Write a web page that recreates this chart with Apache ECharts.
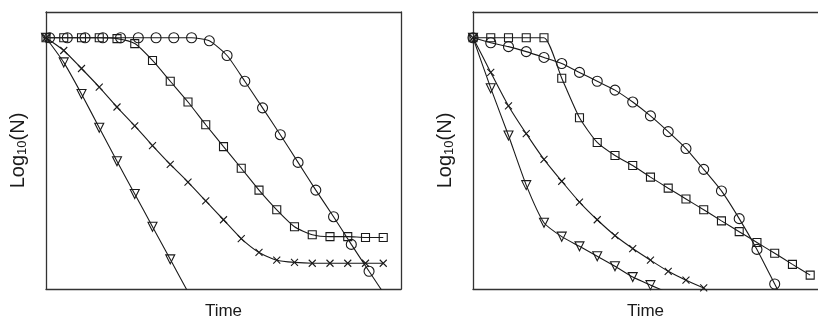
<!DOCTYPE html>
<html>
<head>
<meta charset="utf-8">
<script src="https://cdn.jsdelivr.net/npm/echarts@6/dist/echarts.min.js"></script>
<style>
html,body{margin:0;padding:0;background:#fff;}
#chart{width:818px;height:325px;}
</style>
</head>
<body>
<div id="chart"></div>
<script>
// Left panel data (time units, log10 N in arbitrary 0-100 units)
var L_circle_x = [0.2,1.2,2.2,3.2,4.2,5.2,6.2,7.2,8.2,9.2,10.2,11.2,12.2,13.2,14.2,15.2,16.2,17.2,18.2,19.2];
var L_circle_y = [90.7,90.7,90.7,90.7,90.7,90.7,90.7,90.7,90.7,89.6,84.3,75,65.4,55.7,45.7,35.7,26.1,16.1,6.4,-3.2];
var L_square_x = [0,1,2,3,4,5,6,7,8,9,10,11,12,13,14,15,16,17,18,19];
var L_square_y = [90.7,90.7,90.7,90.7,90.4,88.6,82.5,75,67.5,59.3,51.4,43.6,35.7,28.6,22.5,19.6,18.9,18.9,18.6,18.6];
var L_cross_x = [0,1,2,3,4,5,6,7,8,9,10,11,12,13,14,15,16,17,18,19];
var L_cross_y = [90.7,86.1,79.6,72.9,65.7,58.9,51.8,45,38.6,31.8,25,18.2,13.2,10.4,9.6,9.3,9.3,9.3,9.3,9.3];
var L_tri_x = [0,1,2,3,4,5,6,7,8];
var L_tri_y = [90.7,81.8,70.4,58.2,46.1,34.3,22.5,10.7,-1.1];

// Right panel data
var R_circle_x = [0,1,2,3,4,5,6,7,8,9,10,11,12,13,14,15,16,17,18];
var R_circle_y = [90.7,88.9,87.5,85.7,83.6,81.4,78.2,75,71.8,67.5,62.5,56.8,50.7,43.2,35.4,25.4,14.3,1.8,-10.7];
var R_square_x = [0,1,2,3,4,5,6,7,8,9,10,11,12,13,14,15,16,17,18,19];
var R_square_y = [90.7,90.7,90.7,90.7,90.7,76.1,61.8,52.9,48.2,44.6,40.4,36.4,32.5,28.6,24.6,20.7,16.8,12.9,8.9,5.0];
var R_cross_x = [0,1,2,3,4,5,6,7,8,9,10,11,12,13];
var R_cross_y = [90.7,78.2,66.1,56.1,46.8,38.9,31.4,25,19.3,14.6,10.4,6.4,3.2,0.4];
var R_tri_x = [0,1,2,3,4,5,6,7,8,9,10,11];
var R_tri_y = [90.7,72.5,55.4,37.5,23.9,18.9,15.4,11.8,8.2,4.3,1.4,-1.4];

var xLabel = 'Time';
var yLabel = '{a|Log}{b|10}{a|(N)}';

function pairs(xs, ys){ return xs.map(function(x,i){ return [x, ys[i]]; }); }

var FONT = "'Liberation Sans', Arial, sans-serif";
var INK = '#1a1a1a';
var AX = '#333';
var CROSS = 'path://M0,0L10,10M10,0L0,10';

function mkSeries(idx, xs, ys, symbol, size, rot){
  return {
    type: 'line', xAxisIndex: idx, yAxisIndex: idx,
    data: pairs(xs, ys),
    smooth: 0.2,
    clip: true,
    symbol: symbol, symbolSize: size, symbolRotate: rot || 0,
    showAllSymbol: true,
    lineStyle: {color: INK, width: 1.1},
    itemStyle: {color: 'transparent', borderColor: INK, borderWidth: 1.1},
    emphasis: {disabled: true},
    animation: false, z: 3
  };
}

function axLine(){ return {show: true, onZero: false, lineStyle: {color: AX, width: 1.3}}; }

function mkX(idx, max, withName, pos){
  return {
    gridIndex: idx, type: 'value', min: 0, max: max, position: pos,
    name: withName ? xLabel : '', nameLocation: 'middle', nameGap: 14,
    nameTextStyle: {fontSize: 17, fontFamily: FONT, color: INK, verticalAlign: 'top'},
    axisLine: axLine(),
    axisTick: {show: false}, axisLabel: {show: false}, splitLine: {show: false}
  };
}
function mkY(idx, withName, pos){
  return {
    gridIndex: idx, type: 'value', min: 0, max: 100, position: pos,
    name: withName ? yLabel : '', nameLocation: 'middle', nameGap: 17,
    nameTextStyle: {
      rich: {
        a: {fontSize: 20, fontFamily: FONT, color: INK},
        b: {fontSize: 13, fontFamily: FONT, color: INK, padding: [9, 0, 0, 0]}
      }
    },
    axisLine: axLine(),
    axisTick: {show: false}, axisLabel: {show: false}, splitLine: {show: false}
  };
}

var chart = echarts.init(document.getElementById('chart'), null, {renderer: 'canvas'});
chart.setOption({
  backgroundColor: '#fff',
  animation: false,
  grid: [
    {left: 46, top: 12, width: 355, height: 280, show: false},
    {left: 473, top: 12, right: 0, height: 280, show: false}
  ],
  xAxis: [
    mkX(0, 20, true, 'bottom'), mkX(0, 20, false, 'top'),
    mkX(1, 19.44, true, 'bottom'), mkX(1, 19.44, false, 'top')
  ],
  yAxis: [
    mkY(0, true, 'left'), mkY(0, false, 'right'),
    mkY(1, true, 'left')
  ],
  series: [
    mkSeries(0, L_circle_x, L_circle_y, 'circle', 10),
    mkSeries(0, L_square_x, L_square_y, 'rect', 8),
    mkSeries(0, L_cross_x, L_cross_y, CROSS, 7),
    mkSeries(0, L_tri_x, L_tri_y, 'triangle', 9, 180),
    mkSeries(2, R_circle_x, R_circle_y, 'circle', 10),
    mkSeries(2, R_square_x, R_square_y, 'rect', 8),
    mkSeries(2, R_cross_x, R_cross_y, CROSS, 7),
    mkSeries(2, R_tri_x, R_tri_y, 'triangle', 9, 180)
  ].map(function(s, i){
    if (i >= 4) { s.xAxisIndex = 2; s.yAxisIndex = 2; }
    return s;
  })
});
</script>
</body>
</html>
